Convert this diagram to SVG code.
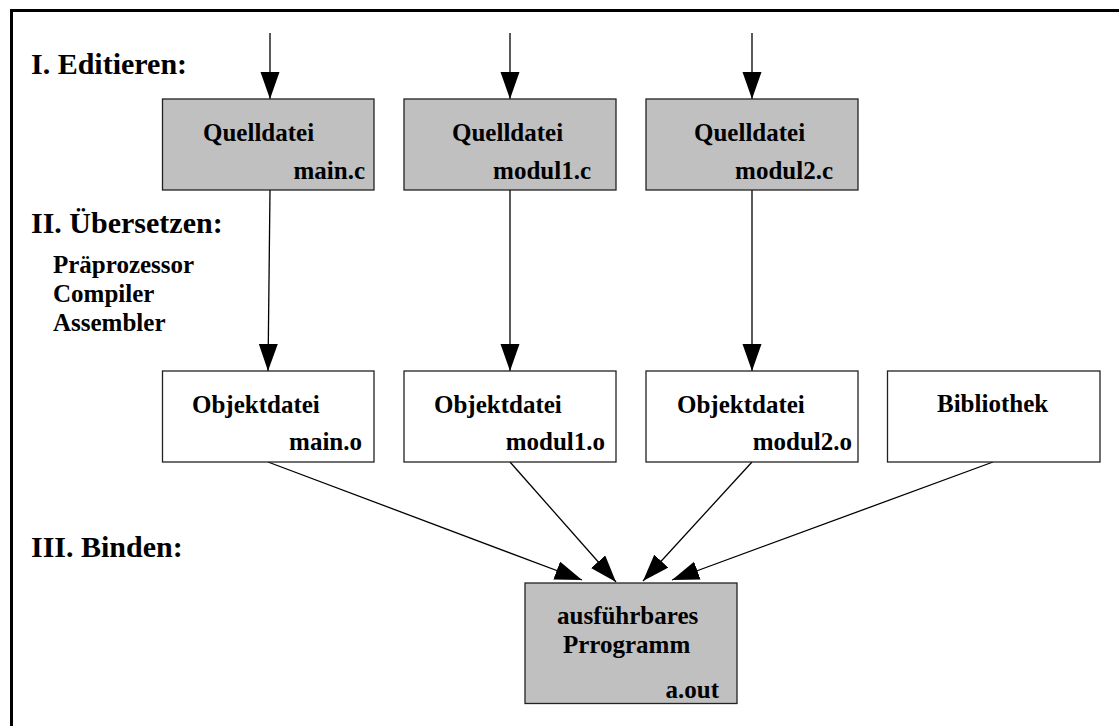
<svg xmlns="http://www.w3.org/2000/svg" width="1119" height="726" viewBox="0 0 1119 726">
<style>
text{font-family:"Liberation Serif","Times New Roman",serif;font-weight:bold;fill:#000}
.h{font-size:30px}
.l{font-size:25px}
.e{text-anchor:end}
.src rect,.res rect{fill:#c0c0c0;stroke:#222;stroke-width:1.3}
.obj rect{fill:#fff;stroke:#222;stroke-width:1.3}
#connectors line{stroke:#000;stroke-width:1.3;marker-end:url(#ah)}
</style>
<defs>
<marker id="ah" markerUnits="userSpaceOnUse" markerWidth="28" markerHeight="20" refX="27" refY="9.5" orient="auto" viewBox="0 0 28 20">
<path d="M0,0 L27,9.5 L0,19 z" fill="#000"/>
</marker>
</defs>
<rect x="0" y="0" width="1119" height="726" fill="#fff"/>
<rect x="11.5" y="10.5" width="1130" height="740" fill="none" stroke="#000" stroke-width="3"/>
<g id="labels">
<text class="h" x="31" y="74">I. Editieren:</text>
<text class="h" x="31" y="233">II. Übersetzen:</text>
<text class="l" x="53" y="272.5">Präprozessor</text>
<text class="l" x="53" y="301.5">Compiler</text>
<text class="l" x="53" y="330.5">Assembler</text>
<text class="h" x="31" y="557">III. Binden:</text>
</g>
<g id="connectors">
<line x1="270" y1="33" x2="270" y2="99"/>
<line x1="510" y1="33" x2="510" y2="99"/>
<line x1="752" y1="33" x2="752" y2="99"/>
<line x1="270" y1="190" x2="268" y2="371"/>
<line x1="510" y1="190" x2="510" y2="371"/>
<line x1="752" y1="190" x2="752" y2="371"/>
<line x1="268" y1="462" x2="582" y2="580"/>
<line x1="510" y1="462" x2="616" y2="582"/>
<line x1="752" y1="462" x2="643" y2="581"/>
<line x1="993" y1="462" x2="672" y2="580"/>
</g>
<g id="src-main" class="src">
<rect x="162.5" y="99" width="211.5" height="91"/>
<text class="l" x="203" y="141">Quelldatei</text>
<text class="l e" x="365" y="179">main.c</text>
</g>
<g id="src-modul1" class="src">
<rect x="404" y="99" width="212" height="91"/>
<text class="l" x="452" y="141">Quelldatei</text>
<text class="l e" x="591" y="179">modul1.c</text>
</g>
<g id="src-modul2" class="src">
<rect x="646" y="99" width="212" height="91"/>
<text class="l" x="694" y="141">Quelldatei</text>
<text class="l e" x="833" y="179">modul2.c</text>
</g>
<g id="obj-main" class="obj">
<rect x="162.5" y="371" width="211.5" height="91"/>
<text class="l" x="192" y="413">Objektdatei</text>
<text class="l e" x="362" y="450">main.o</text>
</g>
<g id="obj-modul1" class="obj">
<rect x="404" y="371" width="212" height="91"/>
<text class="l" x="434" y="413">Objektdatei</text>
<text class="l e" x="605" y="450">modul1.o</text>
</g>
<g id="obj-modul2" class="obj">
<rect x="646" y="371" width="212" height="91"/>
<text class="l" x="677" y="413">Objektdatei</text>
<text class="l e" x="852" y="450">modul2.o</text>
</g>
<g id="bibliothek" class="obj">
<rect x="887.5" y="371" width="212.5" height="91"/>
<text class="l" x="937" y="412">Bibliothek</text>
</g>
<g id="result" class="res">
<rect x="525" y="583" width="212" height="120.5"/>
<text class="l" x="557" y="624">ausführbares</text>
<text class="l" x="563" y="653">Prrogramm</text>
<text class="l e" x="719" y="698">a.out</text>
</g>
</svg>
